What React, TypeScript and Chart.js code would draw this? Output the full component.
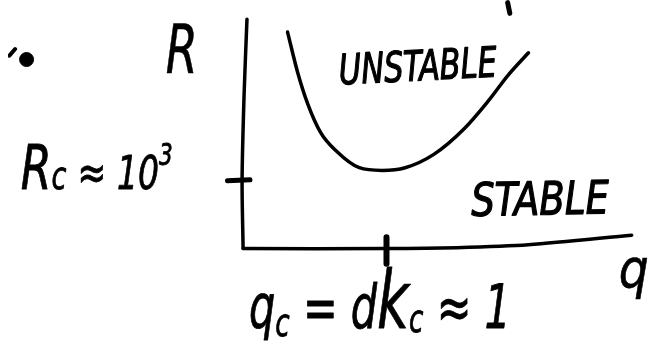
import { useEffect, useRef } from "react";
import { Chart, registerables } from "chart.js";

Chart.register(...registerables);

// Neutral stability curve R(q) for convection, sketched in units of q and R.
const curveQ = [0.31, 0.38, 0.45, 0.54, 0.65, 0.81, 0.97, 1.13, 1.33, 1.54, 1.71, 1.85, 1.99];
const curveR = [3240, 2640, 2170, 1740, 1460, 1210, 1170, 1210, 1410, 1790, 2210, 2600, 2930];

// Hand-drawn axes
const yAxisQ = [0.027, 0.007, -0.007, 0];
const yAxisR = [3430, 2310, 1030, 0];
const xAxisQ = [0, 1.0, 1.49, 1.99, 2.71];
const xAxisR = [0, 0, 14, 57, 200];

// Critical values marked on the axes
const qCritical = 1;
const rCritical = 1000;
const yTickQ = [-0.109, 0.048];
const yTickR = [1014, 1029];
const xTickR = [171, -229];

// Stray pen marks at the edges of the sheet
const topStrokeQ = [1.845, 1.86];
const topStrokeR = [3680, 3520];
const cornerStrokeQ = [-1.63, -1.59];
const cornerStrokeR = [2886, 2986];
const dotQ = [-1.51];
const dotR = [2829];

// Text labels, anchored at (q, R)
const labelText = ["R", "UNSTABLE", "STABLE", "q"];
const labelQ = [-0.54, 0.673, 1.592, 2.62];
const labelR = [2629, 2457, 486, -586];

const pts = (xs: number[], ys: number[]) => xs.map((x, i) => ({ x, y: ys[i] }));

type Part = { t: string; size: number; rise?: number };

function drawParts(
  ctx: CanvasRenderingContext2D,
  parts: Part[],
  x: number,
  y: number,
  width: number,
  angle = 0,
  pen = 1.2
) {
  const family = "'DejaVu Sans Condensed', 'DejaVu Sans', sans-serif";
  let total = 0;
  for (const p of parts) {
    ctx.font = `italic ${p.size}px ${family}`;
    total += ctx.measureText(p.t).width;
  }
  ctx.save();
  ctx.translate(x, y);
  ctx.rotate(angle);
  ctx.scale(width / total, 1);
  ctx.fillStyle = "#000";
  ctx.strokeStyle = "#000";
  ctx.lineWidth = pen;
  ctx.lineJoin = "round";
  ctx.textBaseline = "alphabetic";
  ctx.textAlign = "left";
  let cx = 0;
  for (const p of parts) {
    ctx.font = `italic ${p.size}px ${family}`;
    ctx.fillText(p.t, cx, -(p.rise || 0));
    if (pen > 0) ctx.strokeText(p.t, cx, -(p.rise || 0));
    cx += ctx.measureText(p.t).width;
  }
  ctx.restore();
}

const labelsPlugin = {
  id: "sketchLabels",
  afterDatasetsDraw(chart: Chart) {
    const ctx = chart.ctx;
    const xs = chart.scales.x;
    const ys = chart.scales.y;
    const px = (q: number) => xs.getPixelForValue(q);
    const py = (r: number) => ys.getPixelForValue(r);

    // axis title R
    drawParts(ctx, [{ t: labelText[0], size: 68 }], px(labelQ[0]), py(labelR[0]), 32, 0, 0.6);
    // region labels
    drawParts(ctx, [{ t: labelText[1], size: 42 }], px(labelQ[1]), py(labelR[1]), 158, -0.05);
    drawParts(ctx, [{ t: labelText[2], size: 46 }], px(labelQ[2]), py(labelR[2]), 138, -0.02);
    // axis title q
    drawParts(ctx, [{ t: labelText[3], size: 56 }], px(labelQ[3]), py(labelR[3]), 30, 0, 0.6);

    // critical Rayleigh number
    drawParts(
      ctx,
      [
        { t: "R", size: 62 },
        { t: "c", size: 38 },
        { t: " ≈ ", size: 48 },
        { t: "10", size: 46 },
        { t: "3", size: 30, rise: 24 },
      ],
      px(-1.551),
      py(rCritical - 114),
      152,
      0,
      0.8
    );
    // critical wavenumber
    drawParts(
      ctx,
      [
        { t: "q", size: 60 },
        { t: "c", size: 38, rise: -8 },
        { t: " = d", size: 60 },
        { t: "k", size: 80 },
        { t: "c", size: 38, rise: -4 },
        { t: " ≈ 1", size: 60 },
      ],
      px(qCritical - 0.959),
      py(-1186),
      262,
      0,
      0.8
    );
  },
};

export default function App() {
  const ref = useRef<HTMLCanvasElement>(null);

  useEffect(() => {
    if (!ref.current) return;
    const ink = "#000";
    const line = (data: { x: number; y: number }[], width: number, extra: object = {}) => ({
      data,
      borderColor: ink,
      backgroundColor: ink,
      borderWidth: width,
      pointRadius: 0,
      showLine: true,
      borderCapStyle: "round" as const,
      borderJoinStyle: "round" as const,
      ...extra,
    });

    const chart = new Chart(ref.current, {
      type: "line",
      data: {
        datasets: [
          line(pts(curveQ, curveR), 3.5, { cubicInterpolationMode: "monotone" }),
          line(pts(yAxisQ, yAxisR), 3.5, { tension: 0.3 }),
          line(pts(xAxisQ, xAxisR), 3.5, { tension: 0.3 }),
          line(pts(yTickQ, yTickR), 5),
          line(pts([qCritical, qCritical], xTickR), 6),
          line(pts(topStrokeQ, topStrokeR), 5, { clip: false }),
          line(pts(cornerStrokeQ, cornerStrokeR), 4),
          {
            data: pts(dotQ, dotR),
            showLine: false,
            pointRadius: 7,
            pointBackgroundColor: ink,
            pointBorderColor: ink,
          },
        ],
      },
      options: {
        animation: false,
        responsive: false,
        events: [],
        layout: { padding: 0 },
        plugins: { legend: { display: false }, tooltip: { enabled: false } },
        scales: {
          x: { type: "linear", display: false, min: -1.6395, max: 2.8027 },
          y: { type: "linear", display: false, min: -1443, max: 3600 },
        },
      },
      plugins: [labelsPlugin],
    });
    return () => chart.destroy();
  }, []);

  return (
    <div style={{ position: "fixed", left: 0, top: 0, width: 653, height: 353, background: "#fff" }}>
      <canvas ref={ref} width={653} height={353} style={{ display: "block" }} />
    </div>
  );
}
